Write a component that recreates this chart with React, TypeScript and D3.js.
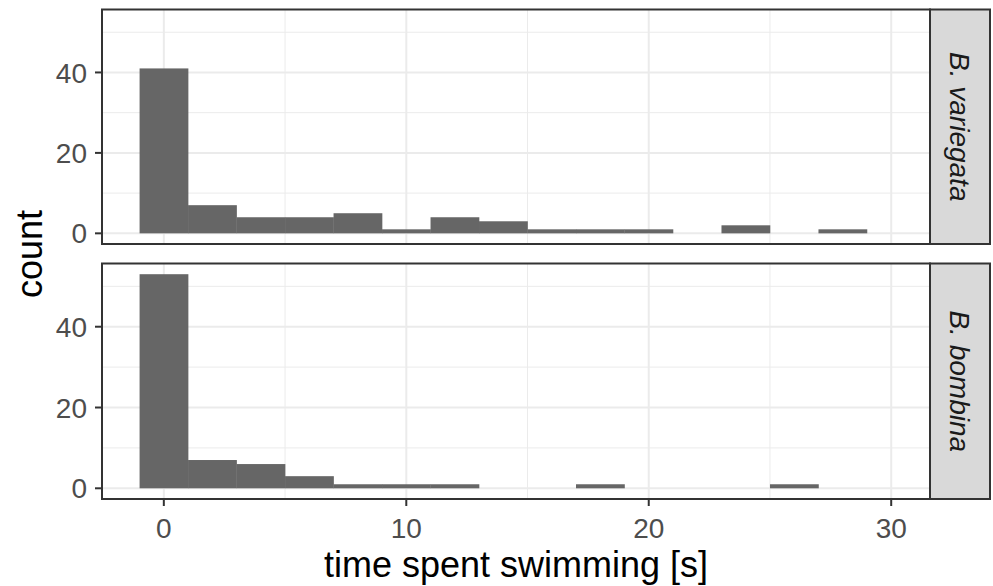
import React, { useEffect, useRef } from 'react'
import * as d3 from 'd3'

// histogram bins, width 2, centred on even numbers
const binStarts = [-1, 1, 3, 5, 7, 9, 11, 13, 15, 17, 19, 21, 23, 25, 27]
const variegataCounts = [41, 7, 4, 4, 5, 1, 4, 3, 1, 1, 1, 0, 2, 0, 1]
const bombinaCounts = [53, 7, 6, 3, 1, 1, 1, 0, 0, 1, 0, 0, 0, 1, 0]
const species = ['B. variegata', 'B. bombina']
const xTicks = [0, 10, 20, 30]
const xMinor = [5, 15, 25]
const yTicks = [0, 20, 40]
const yMinor = [10, 30, 50]
const binWidth = 2

const App = () => {
	const ref = useRef<SVGSVGElement>(null)

	useEffect(() => {
		const svg = d3.select(ref.current)
		svg.selectAll('*').remove()

		const left = 102, right = 930, stripW = 60
		const panels = [
			{ top: 9.5, bottom: 244, counts: variegataCounts, label: species[0] },
			{ top: 263.5, bottom: 499, counts: bombinaCounts, label: species[1] },
		]

		const x = d3.scaleLinear().domain([-2.55, 31.6]).range([left, right])

		panels.forEach((p, i) => {
			const y = d3.scaleLinear().domain([-2.65, 55.65]).range([p.bottom, p.top])
			const g = svg.append('g')

			g.append('rect')
				.attr('x', left).attr('y', p.top)
				.attr('width', right - left).attr('height', p.bottom - p.top)
				.attr('fill', '#fff')

			g.selectAll('.ymin').data(yMinor).enter().append('line')
				.attr('x1', left).attr('x2', right)
				.attr('y1', d => y(d)).attr('y2', d => y(d))
				.attr('stroke', '#EBEBEB').attr('stroke-width', 1)
			g.selectAll('.xmin').data(xMinor).enter().append('line')
				.attr('y1', p.top).attr('y2', p.bottom)
				.attr('x1', d => x(d)).attr('x2', d => x(d))
				.attr('stroke', '#EBEBEB').attr('stroke-width', 1)
			g.selectAll('.ymaj').data(yTicks).enter().append('line')
				.attr('x1', left).attr('x2', right)
				.attr('y1', d => y(d)).attr('y2', d => y(d))
				.attr('stroke', '#EBEBEB').attr('stroke-width', 2)
			g.selectAll('.xmaj').data(xTicks).enter().append('line')
				.attr('y1', p.top).attr('y2', p.bottom)
				.attr('x1', d => x(d)).attr('x2', d => x(d))
				.attr('stroke', '#EBEBEB').attr('stroke-width', 2)

			g.selectAll('.bar').data(p.counts.map((c, k) => ({ start: binStarts[k], count: c })))
				.enter().append('rect')
				.attr('x', d => x(d.start))
				.attr('width', x(binWidth) - x(0) + 0.3)
				.attr('y', d => y(d.count))
				.attr('height', d => y(0) - y(d.count))
				.attr('fill', '#666666')

			g.append('rect')
				.attr('x', left).attr('y', p.top)
				.attr('width', right - left).attr('height', p.bottom - p.top)
				.attr('fill', 'none').attr('stroke', '#333').attr('stroke-width', 2)

			// y axis
			yTicks.forEach(t => {
				g.append('line')
					.attr('x1', left - 7).attr('x2', left)
					.attr('y1', y(t)).attr('y2', y(t))
					.attr('stroke', '#333').attr('stroke-width', 2)
				g.append('text')
					.attr('x', left - 15).attr('y', y(t))
					.attr('dy', '0.36em')
					.attr('text-anchor', 'end')
					.attr('font-size', 28)
					.attr('fill', '#4D4D4D')
					.text(t)
			})

			// strip
			g.append('rect')
				.attr('x', right).attr('y', p.top)
				.attr('width', stripW).attr('height', p.bottom - p.top)
				.attr('fill', '#D9D9D9').attr('stroke', '#333').attr('stroke-width', 2)
			g.append('text')
				.attr('transform', `translate(${right + stripW / 2}, ${(p.top + p.bottom) / 2}) rotate(90)`)
				.attr('text-anchor', 'middle')
				.attr('dy', '0.35em')
				.attr('font-size', 28)
				.attr('font-style', 'italic')
				.attr('fill', '#1A1A1A')
				.text(p.label)

			if (i === 1) {
				xTicks.forEach(t => {
					g.append('line')
						.attr('x1', x(t)).attr('x2', x(t))
						.attr('y1', p.bottom).attr('y2', p.bottom + 7)
						.attr('stroke', '#333').attr('stroke-width', 2)
					g.append('text')
						.attr('x', x(t)).attr('y', 538)
						.attr('text-anchor', 'middle')
						.attr('font-size', 28)
						.attr('fill', '#4D4D4D')
						.text(t)
				})
			}
		})

		svg.append('text')
			.attr('x', (left + right) / 2).attr('y', 577)
			.attr('text-anchor', 'middle')
			.attr('font-size', 36)
			.attr('fill', '#000')
			.text('time spent swimming [s]')

		svg.append('text')
			.attr('transform', `translate(42, 254) rotate(-90)`)
			.attr('text-anchor', 'middle')
			.attr('font-size', 36)
			.attr('fill', '#000')
			.text('count')
	}, [])

	return (
		<svg ref={ref} width={993} height={586}
			style={{ position: 'absolute', left: 0, top: 0, fontFamily: 'Liberation Sans, Arial, sans-serif', background: '#fff' }} />
	)
}

export default App
